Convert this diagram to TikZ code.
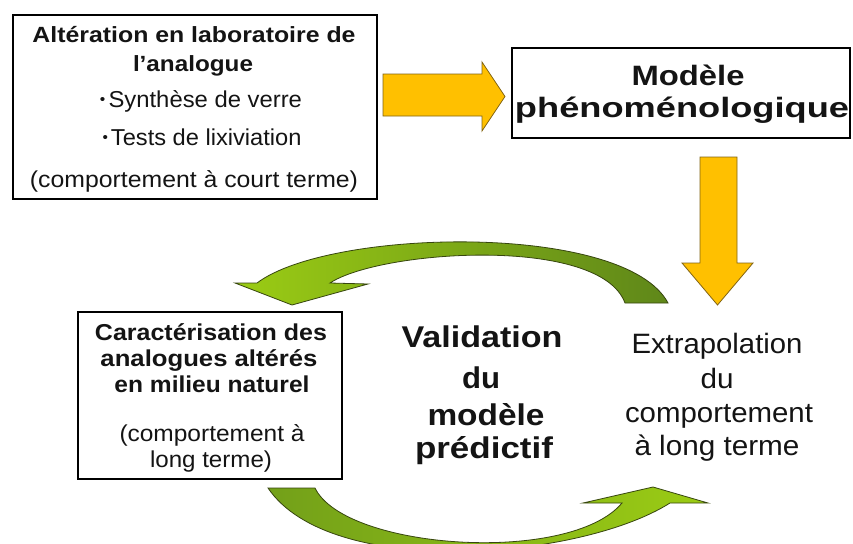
\documentclass[tikz,border=0pt]{standalone}
\usepackage{fontspec}
\setmainfont{Liberation Sans}
\usepackage{graphicx}
\definecolor{arrowyellow}{RGB}{255,192,0}
\definecolor{yellowedge}{RGB}{130,100,20}
\definecolor{gLight}{RGB}{155,204,20}
\definecolor{gMid}{RGB}{115,160,25}
\definecolor{gDark}{RGB}{95,135,25}
\definecolor{gEdge}{RGB}{55,70,15}
\definecolor{textcol}{RGB}{20,20,20}
\newcommand\fs[1]{\fontsize{#1pt}{#1pt}\selectfont}
\newcommand\wl[2]{\resizebox{#1pt}{\height}{#2}}
\newcommand\smbul{{\fontsize{15pt}{15pt}\selectfont\raisebox{2.5pt}{•}}\hspace{3pt}}
\tikzset{
  box/.style={draw=black, line width=1.8pt, fill=white, outer sep=0pt, inner sep=0pt, anchor=north west},
  yarrow/.style={fill=arrowyellow, draw=yellowedge, line width=0.8pt, line join=miter},
  garrow/.style={draw=gEdge, line width=0.8pt},
  tl/.style={anchor=base, inner sep=0pt, text=textcol},
}
\begin{document}
\begin{tikzpicture}[x=1pt,y=-1pt]
\useasboundingbox (0,0) rectangle (853,543);
\clip (0,0) rectangle (853,543);
\fill[white] (0,0) rectangle (853,543);

% boxes
\node[box, minimum width=364pt, minimum height=184pt] (b1) at (13,15) {};
\node[box, minimum width=338pt, minimum height=90pt] (b2) at (512,48) {};
\node[box, minimum width=264pt, minimum height=167pt] (b3) at (78,312) {};

% yellow arrows
\coordinate (ya) at (383,74);
\filldraw[yarrow] (ya) -- (482,74) -- (482,62) -- (505,96.5) -- (482,131) -- (482,116) -- (383,116) -- cycle;
\coordinate (yb) at (700,157);
\filldraw[yarrow] (yb) -- (737,157) -- (737,263) -- (753,263) -- (717.5,305) -- (682,263) -- (700,263) -- cycle;

% green curved arrows
\shade[garrow, left color=gLight, right color=gDark]
  (235,283) -- (292,305) -- (368,284) -- (330,283)
  .. controls (380,250) and (600,235) .. (625,303)
  -- (668,303)
  .. controls (625,222) and (330,228) .. (257,283)
  -- cycle;
\shade[garrow, left color=gMid, right color=gLight]
  (268,488) -- (315,488)
  .. controls (345,550) and (570,565) .. (622,503)
  -- (583,503) -- (653,487) -- (708,503) -- (670,503)
  .. controls (580,560) and (330,580) .. (268,488)
  -- cycle;

% box 1 text
\node[tl] (t11) at (194,43) {\fs{22}\bfseries\wl{323}{Altération en laboratoire de}};
\node[tl] (t12) at (193,71) {\fs{22}\bfseries\wl{120}{l’analogue}};
\node[tl] (t13) at (201,107) {\fs{23}\wl{202}{\smbul Synthèse de verre}};
\node[tl] (t14) at (202,145) {\fs{23}\wl{199}{\smbul Tests de lixiviation}};
\node[tl] (t15) at (194,187) {\fs{23}\wl{328}{(comportement à court terme)}};

% box 2 text
\node[tl] (t21) at (688,85) {\fs{28}\bfseries\wl{113}{Modèle}};
\node[tl] (t22) at (682,117) {\fs{28}\bfseries\wl{334}{phénoménologique}};

% box 3 text
\node[tl] (t31) at (211,340) {\fs{23}\bfseries\wl{232}{Caractérisation des}};
\node[tl] (t32) at (209,366) {\fs{23}\bfseries\wl{217}{analogues altérés}};
\node[tl] (t33) at (212,392) {\fs{23}\bfseries\wl{195}{en milieu naturel}};
\node[tl] (t34) at (212,441) {\fs{23}\wl{185}{(comportement à}};
\node[tl] (t35) at (211,467) {\fs{23}\wl{122}{long terme)}};

% centre text
\node[tl] (v1) at (482,347) {\fs{30}\bfseries\wl{161}{Validation}};
\node[tl] (v2) at (481,388) {\fs{30}\bfseries\wl{38}{du}};
\node[tl] (v3) at (486,425) {\fs{30}\bfseries\wl{117}{modèle}};
\node[tl] (v4) at (484,458) {\fs{30}\bfseries\wl{138}{prédictif}};

% right text
\node[tl] (e1) at (717,353) {\fs{28}\wl{171}{Extrapolation}};
\node[tl] (e2) at (717,388) {\fs{28}\wl{33}{du}};
\node[tl] (e3) at (719,422) {\fs{28}\wl{188}{comportement}};
\node[tl] (e4) at (717,455) {\fs{28}\wl{165}{à long terme}};
\end{tikzpicture}
\end{document}
